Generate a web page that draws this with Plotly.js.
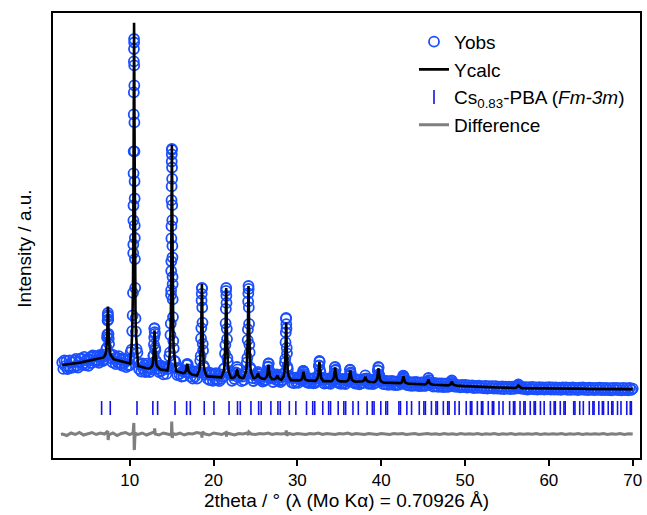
<!DOCTYPE html>
<html>
<head>
<meta charset="utf-8">
<script src="https://cdn.plot.ly/plotly-3.0.1.min.js"></script>
<style>html,body{margin:0;padding:0;background:#fff;}#chart{width:647px;height:515px;}</style>
</head>
<body>
<div id="chart"></div>
<script>
// 2theta grid (degrees)
const twoTheta = [
1.95,2.08,2.20,2.33,2.45,2.58,2.70,2.83,2.95,3.08,3.20,3.33,3.45,3.58,3.70,3.83,3.95,4.08,4.20,4.33,4.45,4.58,4.70,4.83,4.95,5.08,5.20,5.33,5.45,5.58,5.70,5.83,5.95,6.08,6.20,6.33,6.45,6.58,6.70,6.80,6.90,
6.95,7.10,7.20,7.26,7.30,7.33,7.36,7.38,7.40,7.42,7.44,7.47,7.50,7.54,7.60,7.70,7.85,
7.95,8.08,8.20,8.33,8.45,8.58,8.70,8.83,8.95,9.08,9.20,9.33,9.45,9.58,9.70,9.83,9.95,10.05,
10.12,10.22,10.30,10.35,10.39,10.42,10.43,10.44,10.45,10.46,10.47,10.48,10.49,10.50,10.51,10.52,10.53,10.54,10.55,10.56,10.57,10.58,10.59,10.60,10.61,10.62,10.65,10.69,10.74,10.82,10.92,
11.00,11.13,11.25,11.38,11.50,11.63,11.75,11.88,12.00,12.13,12.25,12.38,
12.51,12.66,12.76,12.82,12.86,12.89,12.92,12.94,12.96,12.98,13.00,13.03,13.06,13.10,13.16,13.26,13.41,
13.50,13.63,13.75,13.88,14.00,14.13,14.25,14.38,14.50,
14.63,14.73,14.81,14.86,14.90,14.93,14.94,14.95,14.96,14.97,14.98,14.99,15.00,15.01,15.02,15.03,15.04,15.05,15.06,15.07,15.08,15.09,15.10,15.11,15.12,15.13,15.16,15.20,15.25,15.33,15.43,
15.55,15.68,15.80,15.93,16.05,16.18,16.30,16.43,
16.56,16.71,16.79,16.86,16.93,17.01,17.16,
17.28,17.40,17.53,17.65,17.78,17.90,18.03,
18.16,18.31,18.41,18.47,18.51,18.54,18.57,18.59,18.61,18.63,18.65,18.68,18.71,18.75,18.81,18.91,19.06,
19.18,19.30,19.43,19.55,19.68,19.80,19.93,20.05,20.18,20.30,20.43,20.55,20.68,20.80,20.93,
21.06,21.21,21.31,21.37,21.41,21.44,21.47,21.49,21.51,21.53,21.55,21.58,21.61,21.65,21.71,21.81,21.96,
22.08,22.20,22.33,
22.50,22.65,22.73,22.80,22.87,22.95,23.10,
23.22,23.35,23.47,23.60,
23.72,23.87,23.97,24.03,24.07,24.10,24.13,24.15,24.17,24.19,24.21,24.24,24.27,24.31,24.37,24.47,24.62,
24.75,24.87,
25.00,25.15,25.23,25.30,25.37,25.45,25.60,
25.72,25.85,25.97,26.08,
26.20,26.35,26.43,26.49,26.52,26.55,26.58,26.61,26.67,26.75,26.90,
26.98,27.10,27.20,
27.30,27.45,27.53,27.60,27.67,27.75,27.90,
27.98,28.10,
28.21,28.36,28.46,28.52,28.56,28.59,28.62,28.64,28.66,28.68,28.70,28.73,28.76,28.80,28.86,28.96,29.11,
29.22,29.35,29.47,29.60,29.72,29.85,29.97,30.10,30.22,
30.37,30.52,30.60,30.66,30.69,30.72,30.75,30.78,30.84,30.92,31.07,
31.18,31.30,31.43,31.55,31.68,31.80,31.93,32.05,32.16,
32.28,32.43,32.51,32.57,32.60,32.63,32.66,32.69,32.75,32.83,32.98,
33.08,33.20,33.33,33.45,33.58,33.70,33.83,33.95,34.05,
34.15,34.30,34.38,34.44,34.47,34.50,34.53,34.56,34.62,34.70,34.85,
34.97,35.10,35.22,35.35,35.47,35.60,35.72,35.84,
35.95,36.10,36.18,36.24,36.27,36.30,36.33,36.36,36.42,36.50,36.65,
36.77,36.90,37.02,37.15,37.27,37.40,37.52,37.65,
37.80,37.95,38.03,38.10,38.17,38.25,38.40,
38.52,38.65,38.77,38.90,39.02,39.15,
39.31,39.46,39.54,39.60,39.63,39.66,39.69,39.72,39.78,39.86,40.01,
40.12,40.25,40.40,40.55,40.70,40.85,41.00,41.15,41.30,41.45,41.60,41.75,41.90,42.05,42.18,
42.30,42.45,42.53,42.59,42.62,42.65,42.68,42.71,42.77,42.85,43.00,
43.12,43.27,43.42,43.57,43.72,43.87,44.02,44.17,44.32,44.47,44.62,44.77,44.92,45.07,45.20,
45.33,45.48,45.56,45.63,45.70,45.78,45.93,
46.05,46.20,46.35,46.50,46.65,46.80,46.95,47.10,47.25,47.40,47.55,47.70,47.85,48.00,
48.12,48.27,48.35,48.42,48.49,48.57,48.72,
48.85,49.05,49.25,49.45,49.65,49.85,50.05,50.25,50.45,50.65,50.85,51.05,51.25,51.45,51.65,51.85,52.05,52.25,52.45,52.65,52.85,53.05,53.25,53.45,53.65,53.85,54.05,54.25,54.45,54.65,54.85,55.05,55.25,55.45,55.65,55.85,
56.06,56.21,56.29,56.36,56.43,56.51,56.66,
56.85,57.05,57.25,57.45,57.65,57.85,58.05,58.25,58.45,58.65,58.85,59.05,59.25,
59.45,59.65,59.85,60.05,60.25,60.45,60.65,60.85,61.05,61.25,61.45,61.65,61.85,
62.05,62.25,62.45,62.65,62.85,63.05,63.25,63.45,63.65,63.85,64.05,64.25,64.45,
64.65,64.85,65.05,65.25,65.45,65.65,65.85,66.05,66.25,66.45,66.65,66.85,67.05,
67.25,67.45,67.65,67.85,68.05,68.25,68.45,68.65,68.85,69.05,69.25,69.45,69.65,69.85,70.00
];

// observed intensity
const yObs = [
955,891,977,918,969,890,916,977,898,959,956,907,974,991,923,905,957,989,996,928,945,1012,930,977,990,922,985,1007,950,1027,1020,967,980,1017,970,952,1030,1006,1018,969,985,
1034,1015,1087,1101,1206,1235,1375,1428,1450,1413,1385,1240,1196,1141,1037,1040,994,
957,1029,996,938,1005,957,1019,941,982,924,996,949,986,908,971,923,986,929,
1058,1084,1269,1426,1651,2049,2135,2376,2525,2847,3067,3436,3656,3966,4090,4190,4155,3926,3726,3356,3067,2767,2595,2326,2200,1989,1701,1396,1264,1089,1053,
957,888,934,865,947,889,927,860,943,877,906,860,
886,945,934,1023,1026,1137,1207,1294,1298,1259,1242,1102,1081,968,969,890,921,
860,927,870,918,836,899,908,841,890,
914,1018,1057,1230,1344,1631,1678,1870,1967,2196,2318,2578,2716,2965,3037,3092,3082,2905,2791,2528,2378,2121,2007,1810,1738,1586,1409,1170,1097,973,964,
897,829,901,838,881,813,866,818,
878,856,931,942,936,851,883,
814,871,793,860,813,866,794,
868,854,974,1021,1196,1299,1575,1642,1700,1697,1505,1354,1141,1076,924,904,833,
848,791,855,779,828,847,771,835,790,849,779,828,768,837,792,
813,889,899,1045,1129,1347,1491,1672,1700,1622,1551,1292,1189,1000,959,844,858,
830,772,826,
790,856,852,910,887,806,825,
828,768,815,779,
854,841,957,1001,1179,1286,1566,1646,1720,1691,1506,1341,1134,1056,907,886,799,
770,826,
823,789,849,862,814,839,788,
818,765,812,772,
784,840,824,909,915,945,945,879,869,795,814,
812,760,805,
809,782,837,815,827,772,809,
758,806,
779,846,841,953,992,1156,1256,1393,1400,1338,1296,1101,1047,913,891,806,819,
809,754,798,748,802,757,806,751,791,
800,775,828,818,872,870,841,858,790,815,766,
755,799,749,793,758,797,747,791,751,
767,822,818,921,926,970,961,881,858,787,802,
789,744,788,748,793,747,782,742,787,
790,770,836,848,907,911,877,883,796,805,760,
746,786,741,790,750,785,740,780,
787,763,820,826,884,880,844,856,790,803,757,
784,744,788,743,778,737,782,747,
752,792,786,827,781,797,752,
741,780,745,784,739,773,
751,796,794,877,877,912,903,837,824,767,781,
774,740,774,736,768,732,769,736,770,731,764,728,766,732,762,
764,742,785,783,823,820,798,808,755,772,734,
729,761,725,757,722,759,726,760,721,754,718,756,722,755,721,
725,765,759,800,779,735,755,
749,715,750,716,746,712,745,714,747,710,743,712,745,711,
744,722,762,775,737,752,714,
735,712,729,707,730,709,730,704,726,707,726,700,721,701,724,701,718,697,720,695,718,698,719,695,719,695,714,692,715,690,713,693,714,690,714,692,
715,696,727,735,705,720,693,
711,689,708,685,709,690,711,686,707,685,709,686,705,
683,707,687,708,684,705,683,706,684,703,681,705,686,
706,682,703,681,705,683,701,679,703,684,705,681,701,
679,703,681,700,678,701,682,703,679,700,678,702,680,
699,677,701,681,702,678,699,677,701,679,698,676,700,681,694
];

// calculated intensity
const yCalc = [
930,931,932,933,934,935,936,937,938,939,941,942,944,946,948,950,952,954,956,958,960,962,965,967,970,972,975,977,980,982,985,987,990,992,995,997,1000,1001,1003,1004,1005,
1016,1034,1071,1127,1201,1291,1412,1485,1515,1485,1412,1291,1201,1127,1071,1034,1016,
992,989,986,983,980,977,974,971,967,964,961,959,956,953,951,948,946,944,
1042,1117,1254,1435,1708,2063,2227,2421,2647,2906,3199,3513,3824,4097,4285,4353,4285,4097,3824,3513,3199,2906,2647,2421,2227,2063,1708,1435,1254,1117,1042,
922,918,914,910,907,904,902,900,898,897,896,895,
905,918,946,988,1043,1111,1201,1255,1278,1255,1201,1111,1043,988,946,918,905,
890,887,885,883,881,879,878,876,875,
940,990,1080,1200,1381,1616,1724,1853,2002,2174,2368,2576,2782,2963,3087,3132,3087,2963,2782,2576,2368,2174,2002,1853,1724,1616,1381,1200,1080,990,940,
867,864,861,858,856,853,851,848,
852,873,909,942,909,873,852,
839,836,833,830,828,826,824,
849,881,947,1046,1179,1341,1556,1686,1740,1686,1556,1341,1179,1046,947,881,849,
818,816,815,814,813,812,811,810,810,809,809,808,808,807,807,
833,864,929,1025,1154,1312,1521,1647,1700,1647,1521,1312,1154,1025,929,864,833,
802,802,801,
809,828,860,890,860,828,809,
800,800,800,800,
829,861,927,1026,1159,1321,1536,1666,1720,1666,1536,1321,1159,1026,927,861,829,
799,798,
802,812,831,847,831,812,802,
794,793,792,791,
799,814,840,887,916,930,916,887,840,814,799,
788,787,786,
789,797,812,825,812,797,789,
783,782,
798,818,859,921,1004,1105,1240,1321,1355,1321,1240,1105,1004,921,859,818,798,
779,779,778,778,777,777,776,776,776,
780,789,806,834,852,860,852,834,806,789,780,
775,774,774,773,773,772,772,771,771,
782,802,838,901,941,960,941,901,838,802,782,
769,769,768,768,768,767,767,767,767,
775,790,816,863,892,906,892,863,816,790,775,
766,766,766,765,765,765,765,765,
772,783,805,841,864,875,864,841,805,783,772,
764,764,763,763,763,762,762,762,
767,777,796,812,796,777,767,
761,760,760,759,759,758,
766,781,807,854,883,897,883,854,807,781,766,
756,755,754,754,753,752,751,751,750,749,749,748,748,747,747,
749,757,770,793,808,815,808,793,770,757,749,
744,743,743,742,742,741,741,740,739,739,738,738,737,737,736,
740,750,769,785,769,750,740,
734,733,732,731,731,730,730,729,729,728,728,727,727,726,
729,737,752,765,752,737,729,
723,722,721,720,719,718,717,716,716,715,714,713,712,712,711,711,710,709,709,708,708,707,707,706,706,705,705,704,704,703,703,702,702,701,701,700,
703,708,717,725,717,708,703,
699,699,699,698,698,698,698,697,697,697,697,696,696,
696,696,695,695,695,695,695,694,694,694,694,694,694,
693,693,693,693,693,693,692,692,692,692,692,692,691,
691,691,691,691,691,690,690,690,690,690,690,690,690,
690,690,690,689,689,689,689,689,689,689,689,689,689,689,689
];

// Bragg reflection positions (2theta, degrees)
const reflPos = [
6.65,7.68,10.87,12.76,13.33,15.40,16.79,17.23,18.89,20.05,21.85,22.86,23.19,24.46,25.38,25.68,26.84,27.68,27.96,29.04,
29.82,31.09,31.83,32.07,33.03,33.73,33.96,34.87,35.54,35.76,36.63,37.27,38.32,38.94,39.15,39.95,40.55,40.75,42.11,42.30,
43.06,43.62,44.54,45.09,45.27,45.99,46.53,46.70,47.41,47.93,48.10,48.79,49.30,50.14,50.64,50.81,51.47,51.96,52.12,52.77,
53.26,53.42,54.05,54.53,55.32,55.78,55.94,56.56,57.02,57.17,57.78,58.24,58.39,58.99,59.44,60.18,60.63,60.77,61.36,61.80,
61.95,62.96,63.11,63.68,64.11,64.82,65.25,65.39,65.96,66.38,66.52,67.08,67.50,67.64,68.19,68.60,69.29,69.71,69.84
];

// difference curve (offset below the pattern)
const diffX = [
1.8,2.0,2.5,3.0,3.5,4.0,4.5,5.0,5.5,6.0,6.5,7.0,7.38,7.43,7.5,8.0,8.5,9.0,9.5,10.0,10.40,10.47,10.50,10.53,10.56,10.62,10.75,
11.0,11.5,12.0,12.5,12.93,12.98,13.05,13.5,14.0,14.5,14.97,15.01,15.05,15.08,15.15,15.5,16.0,16.5,17.0,17.5,18.0,18.55,18.62,18.68,
19.0,19.5,20.0,20.5,21.0,21.48,21.54,21.6,22.0,22.5,23.0,23.5,24.0,24.15,24.22,24.5,25.0,25.5,26.0,26.5,27.0,27.5,28.0,28.62,28.68,28.74,
29.0,29.5,30.0,30.5,31.0,31.5,32.0,32.5,33.0,33.5,34.0,34.5,35.0,35.5,36.0,36.5,37.0,37.5,38.0,38.5,39.0,39.5,40.0,40.5,41.0,41.5,42.0,42.5,
43.0,43.5,44.0,44.5,45.0,45.5,46.0,46.5,47.0,47.5,48.0,48.5,49.0,49.5,50.0,50.5,51.0,51.5,52.0,52.5,53.0,53.5,54.0,54.5,55.0,55.5,56.0,56.5,
57.0,57.5,58.0,58.5,59.0,59.5,60.0,60.5,61.0,61.5,62.0,62.5,63.0,63.5,64.0,64.5,65.0,65.5,66.0,66.5,67.0,67.5,68.0,68.5,69.0,69.5,70.0
];
const diffY = [
235,240,225,250,235,255,230,245,255,235,250,240,270,180,230,250,225,245,255,235,250,330,350,90,80,210,245,
235,250,230,245,260,295,240,230,250,240,230,365,300,200,245,235,250,230,245,240,255,245,205,260,
240,230,250,240,235,255,215,250,240,230,245,240,250,230,260,240,235,245,240,250,235,245,240,245,275,225,
245,235,245,240,235,245,240,250,235,245,240,235,245,240,250,235,245,240,235,245,240,235,245,240,235,245,240,245,
235,240,245,235,240,245,238,242,236,244,238,242,236,244,238,243,237,244,236,242,238,244,236,242,238,244,236,243,
237,242,238,244,236,242,238,243,237,244,236,242,238,244,236,242,238,243,237,244,236,242,238,244,236,242,239
];

const FONT = 'Liberation Sans, Arial, Helvetica, sans-serif';

const traces = [
  {
    x: twoTheta, y: yObs, name: 'Yobs', type: 'scatter', mode: 'markers',
    marker: {symbol: 'circle-open', size: 10, color: '#1a4fff', line: {width: 1.8, color: '#1a4fff'}}
  },
  {
    x: twoTheta, y: yCalc, name: 'Ycalc', type: 'scatter', mode: 'lines',
    line: {color: '#000000', width: 2.6}
  },
  {
    x: reflPos, y: reflPos.map(() => 500), name: 'Cs<sub>0.83</sub>-PBA (<i>Fm-3m</i>)',
    type: 'scatter', mode: 'markers',
    marker: {symbol: 'line-ns-open', size: 10, color: '#1414e6', line: {width: 1.6, color: '#1414e6'}}
  },
  {
    x: diffX, y: diffY, name: 'Difference', type: 'scatter', mode: 'lines',
    line: {color: '#7f7f7f', width: 3}
  }
];

const layout = {
  width: 647, height: 515,
  margin: {l: 53, r: 7, t: 13, b: 57},
  paper_bgcolor: '#ffffff', plot_bgcolor: '#ffffff',
  font: {family: FONT, color: '#000000', size: 17},
  showlegend: true,
  legend: {
    x: 0.615, y: 0.978, xanchor: 'left', yanchor: 'top',
    bgcolor: 'rgba(0,0,0,0)', borderwidth: 0,
    font: {family: FONT, size: 19, color: '#000000'},
    itemwidth: 30, tracegroupgap: 0
  },
  xaxis: {
    range: [0.85, 70.87], tickvals: [10, 20, 30, 40, 50, 60, 70],
    ticks: 'outside', ticklen: 6, tickwidth: 2, tickcolor: '#000000',
    showline: true, linewidth: 2, linecolor: '#000000', mirror: true,
    showgrid: false, zeroline: false,
    tickfont: {family: FONT, size: 17},
    title: {text: '2theta / ° (λ (Mo Kα) = 0.70926 Å)', font: {family: FONT, size: 19}, standoff: 2}
  },
  yaxis: {
    range: [0, 4450], showticklabels: false, ticks: '',
    showline: true, linewidth: 2, linecolor: '#000000', mirror: true,
    showgrid: false, zeroline: false
  },
  annotations: [{
    text: 'Intensity / a.u.', xref: 'paper', yref: 'paper',
    x: -0.048, y: 0.47, xanchor: 'center', yanchor: 'middle',
    textangle: -90, showarrow: false,
    font: {family: FONT, size: 19, color: '#000000'}
  }]
};

Plotly.newPlot('chart', traces, layout, {displayModeBar: false, staticPlot: true});
</script>
</body>
</html>
